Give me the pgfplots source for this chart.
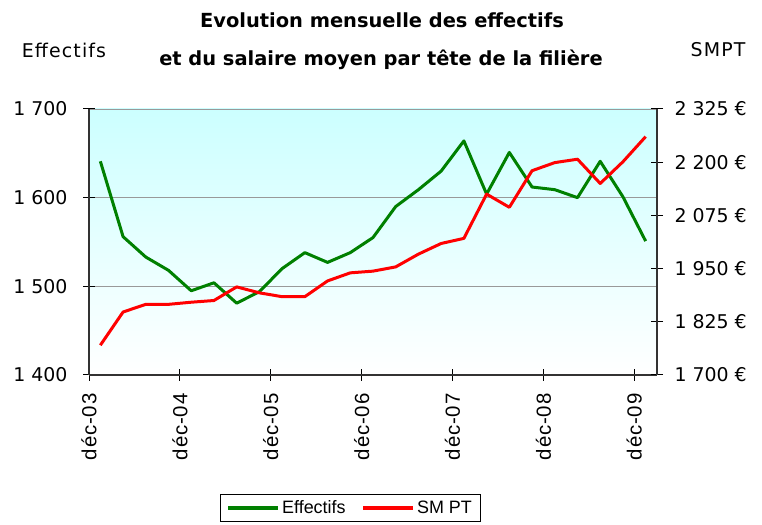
\documentclass[border=0pt]{standalone}
\usepackage{fontspec}
\usepackage{pgfplots}
\pgfplotsset{compat=1.18}
\setmainfont{Liberation Sans}
\newfontfamily\comic{DejaVu Sans}
\newfontfamily\comicw[LetterSpace=6]{DejaVu Sans}
\newfontfamily\arial{Liberation Sans}
\newfontfamily\arialw[LetterSpace=4]{Liberation Sans}
\definecolor{effgreen}{RGB}{0,128,0}
\definecolor{smptred}{RGB}{255,0,0}
\begin{document}
\begin{tikzpicture}[x=1bp,y=1bp]
\path[use as bounding box] (0,0) rectangle (762,525);
\begin{axis}[
  at={(89bp,150bp)}, anchor=south west,
  scale only axis, width=568bp, height=266bp,
  xmin=-0.5, xmax=24.5, ymin=1400, ymax=1700,
  axis x line*=bottom, axis y line*=left,
  axis line style={line width=1.2bp, black!80},
  axis background/.style={shade, top color=cyan!20, bottom color=white},
  xtick={-0.5,3.5,7.5,11.5,15.5,19.5,23.5},
  xticklabels={déc-03,déc-04,déc-05,déc-06,déc-07,déc-08,déc-09},
  xticklabel style={rotate=90, anchor=east, font=\arialw\fontsize{20.5}{22}\selectfont, xshift=-9bp},
  ytick={1400,1500,1600,1700},
  yticklabels={1 400,1 500,1 600,1 700},
  yticklabel style={font=\comic\fontsize{19}{22}\selectfont, xshift=-12bp},
  tick align=center, major tick length=12bp,
  tick style={line width=1bp, black},
  ymajorgrids, grid style={gray!80, line width=0.8bp},
  clip=false,
  legend columns=2,
  legend style={at={(axis description cs:0.46,-0.5)}, anchor=center,
    font=\arial\fontsize{18}{21}\selectfont, draw=black, line width=0.8bp,
    inner ysep=4bp, inner xsep=6bp,
    /tikz/every even column/.append style={column sep=14bp}},
  legend image code/.code={\draw[#1, line width=3.5bp] (0bp,0bp) -- (50bp,0bp);},
]
\addplot[effgreen, line width=3bp, line join=round] coordinates {
(0,1641) (1,1556) (2,1533) (3,1518) (4,1495) (5,1504) (6,1481) (7,1494)
(8,1520) (9,1538) (10,1527) (11,1538) (12,1555) (13,1590) (14,1609)
(15,1630) (16,1664) (17,1604) (18,1651) (19,1612) (20,1609) (21,1600)
(22,1641) (23,1601) (24,1551)
};
\addlegendentry{Effectifs}
\addlegendimage{smptred, line width=3.5bp}
\addlegendentry{SM PT}
\end{axis}
\begin{axis}[
  at={(89bp,150bp)}, anchor=south west,
  scale only axis, width=568bp, height=266bp,
  xmin=-0.5, xmax=24.5, ymin=1700, ymax=2325,
  axis x line=none, axis y line*=right,
  axis line style={line width=1.2bp, black!80},
  ytick={1700,1825,1950,2075,2200,2325},
  yticklabels={1 700\ €,1 825\ €,1 950\ €,2 075\ €,2 200\ €,2 325\ €},
  yticklabel style={font=\comic\fontsize{19}{22}\selectfont, xshift=8bp},
  tick align=center, major tick length=12bp,
  tick style={line width=1bp, black},
  clip=false,
]
\addplot[smptred, line width=3bp, line join=round] coordinates {
(0,1770) (1,1848) (2,1866) (3,1866) (4,1871) (5,1875) (6,1907) (7,1893)
(8,1884) (9,1884) (10,1921) (11,1940) (12,1944) (13,1954) (14,1984)
(15,2009) (16,2021) (17,2125) (18,2094) (19,2180) (20,2199) (21,2207)
(22,2150) (23,2201) (24,2260)
};
\end{axis}
\node[font=\comic\bfseries\fontsize{19.5}{22}\selectfont] at (382,505) {Evolution mensuelle des effectifs};
\node[font=\comic\bfseries\fontsize{19.5}{22}\selectfont] at (381,465) {et du salaire moyen par tête de la filière};
\node[font=\comicw\fontsize{19}{22}\selectfont] at (64,475) {Effectifs};
\node[font=\comicw\fontsize{19}{22}\selectfont] at (718,475) {SMPT};
\end{tikzpicture}
\end{document}
